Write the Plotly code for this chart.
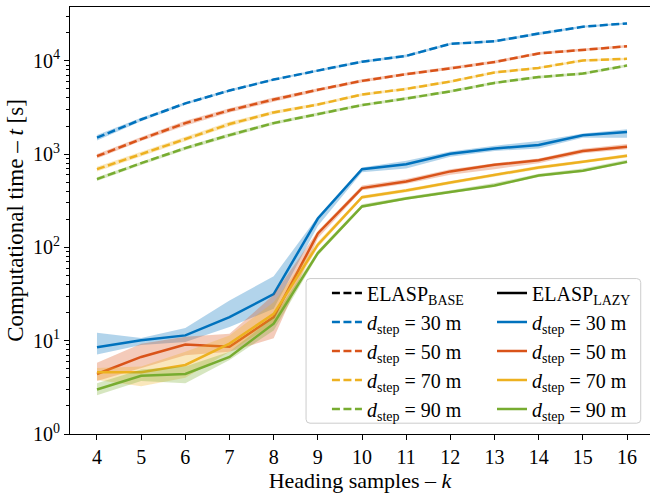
import plotly.graph_objects as go

k = [4, 5, 6, 7, 8, 9, 10, 11, 12, 13, 14, 15, 16]

# ELASP_BASE (dashed)
base30 = [1500, 2350, 3500, 4800, 6300, 7900, 9800, 11300, 15200, 16200, 19600, 23200, 25200]
base30_lo = [1400, 2250, 3380, 4650, 6150, 7700, 9500, 10900, 14800, 15700, 19000, 22600, 24600]
base30_hi = [1600, 2450, 3600, 4950, 6450, 8100, 10100, 11700, 15600, 16700, 20200, 23800, 25800]

base50 = [950, 1450, 2150, 2950, 3850, 4900, 6100, 7200, 8300, 9700, 12000, 13100, 14300]
base50_lo = [900, 1380, 2020, 2800, 3650, 4700, 5850, 6950, 8000, 9350, 11600, 12700, 13900]
base50_hi = [1000, 1530, 2280, 3100, 4050, 5100, 6350, 7450, 8650, 10100, 12400, 13500, 14800]

base70 = [690, 1000, 1450, 2100, 2800, 3400, 4350, 5000, 6000, 7500, 8400, 10100, 10500]
base70_lo = [650, 950, 1370, 1990, 2680, 3270, 4200, 4830, 5800, 7250, 8150, 9800, 10200]
base70_hi = [730, 1060, 1540, 2220, 2920, 3530, 4500, 5170, 6200, 7750, 8650, 10400, 10800]

base90 = [540, 800, 1160, 1600, 2150, 2700, 3350, 3950, 4700, 5800, 6700, 7300, 8900]
base90_lo = [515, 765, 1110, 1530, 2060, 2600, 3230, 3810, 4540, 5600, 6480, 7060, 8600]
base90_hi = [565, 835, 1210, 1670, 2240, 2800, 3470, 4090, 4860, 6000, 6920, 7540, 9200]

# ELASP_LAZY (solid)
lazy30 = [8.5, 10.1, 11.4, 17.9, 31.6, 204, 690, 780, 1010, 1150, 1250, 1590, 1730]
lazy30_lo = [7.1, 9.0, 9.7, 14, 22, 170, 640, 700, 940, 1080, 1150, 1500, 1500]
lazy30_hi = [12.2, 10.7, 13.7, 27, 49, 215, 720, 850, 1070, 1230, 1380, 1660, 1850]

lazy50 = [4.4, 6.7, 9.1, 8.6, 17.9, 141, 432, 508, 653, 768, 860, 1080, 1200]
lazy50_lo = [3.7, 5.1, 7.0, 7.6, 10.6, 125, 410, 480, 600, 690, 800, 1020, 1130]
lazy50_hi = [5.8, 9.3, 11, 11.9, 31, 150, 460, 540, 690, 800, 900, 1140, 1280]

lazy70 = [4.6, 4.6, 5.5, 9.3, 19.4, 107, 345, 407, 496, 600, 720, 830, 960]
lazy70_lo = [3.8, 3.25, 4.0, 7.6, 15.3, 100, 330, 390, 475, 575, 690, 800, 920]
lazy70_hi = [5.1, 5.3, 7.6, 11.4, 25.8, 115, 360, 425, 515, 625, 750, 860, 1000]

lazy90 = [3.0, 4.2, 4.4, 6.7, 15.2, 87, 275, 334, 392, 460, 590, 665, 826]
lazy90_lo = [2.6, 3.7, 3.5, 6.2, 12.9, 82, 265, 325, 380, 445, 570, 645, 800]
lazy90_hi = [3.5, 4.9, 5.3, 7.6, 17.9, 92, 290, 350, 410, 490, 615, 700, 870]

d_steps = [30, 50, 70, 90]
colors = ["#0072BD", "#D95319", "#EDB120", "#77AC30"]
band_colors = ["rgba(0,114,189,0.3)", "rgba(217,83,25,0.3)",
               "rgba(237,177,32,0.3)", "rgba(119,172,48,0.3)"]

base_series = [(base30, base30_lo, base30_hi), (base50, base50_lo, base50_hi),
               (base70, base70_lo, base70_hi), (base90, base90_lo, base90_hi)]
lazy_series = [(lazy30, lazy30_lo, lazy30_hi), (lazy50, lazy50_lo, lazy50_hi),
               (lazy70, lazy70_lo, lazy70_hi), (lazy90, lazy90_lo, lazy90_hi)]

y_tickvals = [1, 10, 100, 1000, 10000]
y_ticktext = ["10<sup>0</sup>", "10<sup>1</sup>", "10<sup>2</sup>", "10<sup>3</sup>", "10<sup>4</sup>"]

FONT = "Liberation Serif"
DASH = "8px,3.5px"
LW = 2.5

fig = go.Figure()

# header entries
fig.add_trace(go.Scatter(x=[None], y=[None], mode="lines",
                         line=dict(color="black", width=LW, dash=DASH),
                         name="ELASP<sub>BASE</sub>", legend="legend"))
fig.add_trace(go.Scatter(x=[None], y=[None], mode="lines",
                         line=dict(color="black", width=LW),
                         name="ELASP<sub>LAZY</sub>", legend="legend2"))


def add_series(vals, lo, hi, color, bcolor, dash, name, legend):
    fig.add_trace(go.Scatter(x=k, y=lo, mode="lines", line=dict(width=0, color=bcolor),
                             showlegend=False, hoverinfo="skip"))
    fig.add_trace(go.Scatter(x=k, y=hi, mode="lines", line=dict(width=0, color=bcolor),
                             fill="tonexty", fillcolor=bcolor, showlegend=False, hoverinfo="skip"))
    fig.add_trace(go.Scatter(x=k, y=vals, mode="lines",
                             line=dict(color=color, width=LW, dash=dash),
                             name=name, legend=legend))


for i, d in enumerate(d_steps):
    name = "<i>d</i><sub>step</sub> = %d m" % d
    v, lo, hi = base_series[i]
    add_series(v, lo, hi, colors[i], band_colors[i], DASH, name, "legend")
for i, d in enumerate(d_steps):
    name = "<i>d</i><sub>step</sub> = %d m" % d
    v, lo, hi = lazy_series[i]
    add_series(v, lo, hi, colors[i], band_colors[i], "solid", name, "legend2")

minor_vals = [m * 10 ** e for e in range(0, 5) for m in range(2, 10)]

# legend frame
x0, x1, y0, y1 = 0.407, 0.984, 0.0253, 0.364
rx, ry = 4 / 580, 4 / 434
path = (f"M{x0+rx},{y0} L{x1-rx},{y0} Q{x1},{y0} {x1},{y0+ry} L{x1},{y1-ry} "
        f"Q{x1},{y1} {x1-rx},{y1} L{x0+rx},{y1} Q{x0},{y1} {x0},{y1-ry} "
        f"L{x0},{y0+ry} Q{x0},{y0} {x0+rx},{y0} Z")

fig.update_layout(
    width=650, height=493,
    margin=dict(l=70, r=0, t=7, b=52),
    paper_bgcolor="white", plot_bgcolor="white",
    font=dict(family=FONT, size=20, color="black"),
    shapes=[dict(type="path", path=path, xref="paper", yref="paper",
                 fillcolor="rgba(255,255,255,0.8)", line=dict(color="#cccccc", width=1),
                 layer="above")],
    legend=dict(x=0.443, y=0.376, xanchor="left", yanchor="top",
                bgcolor="rgba(0,0,0,0)", borderwidth=0, traceorder="normal",
                font=dict(family=FONT, size=20)),
    legend2=dict(x=0.7276, y=0.376, xanchor="left", yanchor="top",
                 bgcolor="rgba(0,0,0,0)", borderwidth=0, traceorder="normal",
                 font=dict(family=FONT, size=20)),
    xaxis=dict(range=[3.389, 16.52], tickmode="array", tickvals=k,
               ticks="outside", ticklen=5, tickwidth=1, tickcolor="black",
               showline=True, linecolor="black", linewidth=1, mirror=True,
               showgrid=False, zeroline=False,
               title=dict(text="Heading samples – <i>k</i>", font=dict(size=22), standoff=10)),
    yaxis=dict(type="log", range=[0, 4.577], tickmode="array",
               tickvals=y_tickvals, ticktext=y_ticktext,
               ticks="outside", ticklen=5, tickwidth=1, tickcolor="black",
               minor=dict(tickmode="array", tickvals=minor_vals, ticks="outside",
                          ticklen=3, tickwidth=1, tickcolor="black", showgrid=False),
               showline=True, linecolor="black", linewidth=1, mirror=False,
               showgrid=False, zeroline=False,
               title=dict(text="Computational time – <i>t</i> [s]", font=dict(size=23), standoff=2)),
)

fig.write_html("out.html")
